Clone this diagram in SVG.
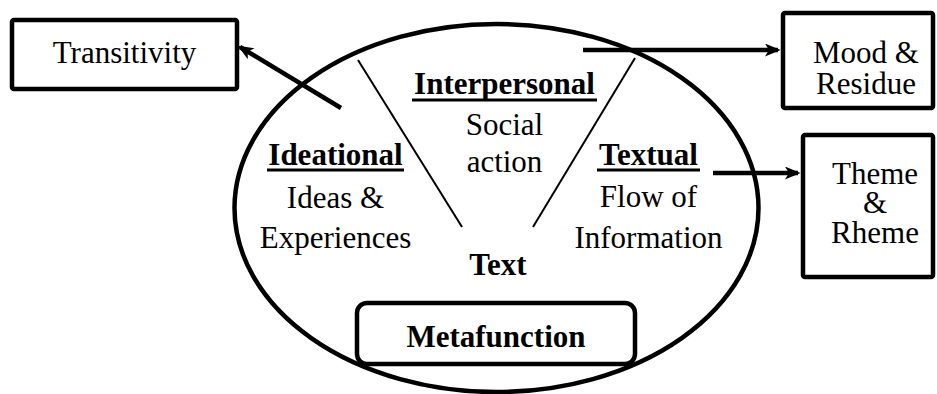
<svg xmlns="http://www.w3.org/2000/svg" width="937" height="394" viewBox="0 0 937 394">
  <style>
    .box { fill: #fff; stroke: #000; stroke-width: 4.5; }
    .oval { fill: none; stroke: #000; stroke-width: 4.5; }
    .t { font-family: "Liberation Serif", Tinos, "Times New Roman", Times, "Nimbus Roman", "Nimbus Roman No9 L", FreeSerif, "Noto Serif", "DejaVu Serif", serif; font-size: 31px; fill: #000; text-anchor: middle; }
    .b { font-weight: bold; }
    .ul { stroke: #000; stroke-width: 3; }
    .div { stroke: #000; stroke-width: 2; }
    .arrow { stroke: #000; stroke-width: 4.5; fill: none; marker-end: url(#head); }
  </style>
  <defs>
    <marker id="head" viewBox="0 0 12 10" refX="10" refY="5" markerWidth="16" markerHeight="13" markerUnits="userSpaceOnUse" orient="auto">
      <path d="M0,0 L12,5 L0,10 L3,5 Z" fill="#000"/>
    </marker>
  </defs>
  <rect width="937" height="394" fill="#fff"/>

  <!-- central ellipse with its three segments -->
  <g id="text-ellipse">
    <ellipse class="oval" cx="496.5" cy="208" rx="262" ry="184"/>
    <line class="div" x1="358" y1="60" x2="462" y2="227"/>
    <line class="div" x1="635" y1="58" x2="533" y2="227"/>
    <text class="t b" x="498" y="275">Text</text>
  </g>

  <g id="ideational">
    <text class="t b" x="335.5" y="165">Ideational</text>
    <line class="ul" x1="267" y1="170" x2="404" y2="170"/>
    <text class="t" x="335.5" y="208">Ideas &amp;</text>
    <text class="t" x="335.5" y="248">Experiences</text>
  </g>

  <g id="interpersonal">
    <text class="t b" x="504.5" y="94">Interpersonal</text>
    <line class="ul" x1="412" y1="100" x2="597" y2="100"/>
    <text class="t" x="504.5" y="135">Social</text>
    <text class="t" x="504.5" y="172">action</text>
  </g>

  <g id="textual">
    <text class="t b" x="648.5" y="165">Textual</text>
    <line class="ul" x1="597" y1="170" x2="700" y2="170"/>
    <text class="t" x="648.5" y="207">Flow of</text>
    <text class="t" x="648.5" y="248">Information</text>
  </g>

  <g id="metafunction">
    <rect class="box" x="357" y="303" width="278" height="61" rx="10"/>
    <text class="t b" x="496" y="347">Metafunction</text>
  </g>

  <g id="transitivity">
    <rect class="box" x="12" y="20" width="225" height="69" rx="2"/>
    <text class="t" x="124.5" y="63">Transitivity</text>
  </g>

  <g id="mood-residue">
    <rect class="box" x="783" y="13" width="150" height="95" rx="2"/>
    <text class="t" x="866" y="63">Mood &amp;</text>
    <text class="t" x="866" y="94">Residue</text>
  </g>

  <g id="theme-rheme">
    <rect class="box" x="803" y="135" width="130" height="142" rx="2"/>
    <text class="t" x="875" y="184">Theme</text>
    <text class="t" x="875" y="213">&amp;</text>
    <text class="t" x="875" y="243">Rheme</text>
  </g>

  <!-- connectors -->
  <g id="connectors">
    <line class="arrow" x1="341" y1="108" x2="240" y2="47"/>
    <line class="arrow" x1="583" y1="50" x2="778" y2="50"/>
    <line class="arrow" x1="713" y1="173" x2="798" y2="173"/>
  </g>
</svg>
